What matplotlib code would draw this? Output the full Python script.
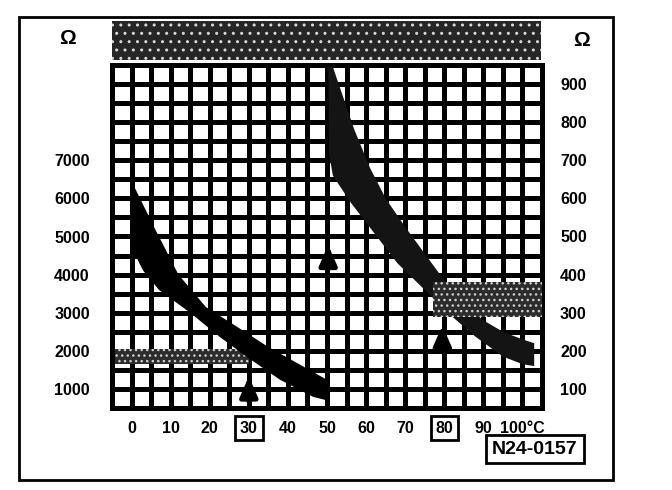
import matplotlib
matplotlib.use("Agg")
import matplotlib.pyplot as plt
from matplotlib.patches import Rectangle
import numpy as np

plt.rcParams["font.family"] = ["Liberation Sans", "DejaVu Sans"]

# temperature axis (deg C) and its labels
x_ticks = [0, 10, 20, 30, 40, 50, 60, 70, 80, 90, 100]
x_labels = ["0", "10", "20", "30", "40", "50", "60", "70", "80", "90", "100°C"]
boxed_labels = ["30", "80"]

# resistance scales: left in ohm, right is the same grid read /10
left_ticks = [1000, 2000, 3000, 4000, 5000, 6000, 7000]
right_ticks = [100, 200, 300, 400, 500, 600, 700, 800, 900]

# low range sensor band (left scale, ohm)
low_upper_t = [0, 6, 12, 19, 27, 35, 42, 50]
low_upper_r = [6450, 5200, 4000, 3150, 2630, 2100, 1700, 1240]
low_lower_t = [0, 3, 7, 15, 22.5, 29.5, 38, 46.5, 50]
low_lower_r = [4700, 4100, 3600, 3000, 2370, 1840, 1240, 790, 700]

# high range sensor band (right scale, ohm)
high_upper_t = [51.5, 54, 57, 61, 65, 70, 75, 80, 85, 90, 95, 100, 103]
high_upper_r = [945, 870, 780, 680, 600, 525, 455, 385, 325, 280, 250, 230, 220]
high_lower_t = [50.3, 50.5, 51.5, 56, 62, 68, 76, 82, 88, 95, 100, 103]
high_lower_r = [945, 720, 660, 590, 510, 430, 350, 290, 237, 185, 165, 160]

# shaded tolerance windows: (t_from, t_to, r_from, r_to) on the left scale
windows = [(-5, 30, 1650, 2050), (77, 105, 2900, 3800)]

# arrows: (t, r_tail, r_tip) on the left scale
arrows = [(30, 600, 1400), (50.3, 4250, 4850), (79.5, 2050, 2740)]

fig = plt.figure(figsize=(6.72, 4.9), dpi=100)
ax = fig.add_axes([112 / 672, 1 - 408 / 490, 430 / 672, 343 / 490])
ax.set_xlim(-5, 105)
ax.set_ylim(500, 9500)

# grid every 5 degC / 500 ohm (major + minor so no line is dropped)
ax.set_xticks(np.arange(-5, 106, 5), minor=True)
ax.set_yticks(np.arange(500, 9501, 500), minor=True)
ax.grid(which="both", color="black", lw=3.6, zorder=1)
ax.set_axisbelow(True)
ax.tick_params(which="both", length=0)
for sp in ax.spines.values():
    sp.set_linewidth(3.6)

ax.set_xticks(x_ticks)
ax.set_xticklabels(x_labels, fontsize=11.5, fontweight="bold")
ax.tick_params(axis="x", pad=9)
for lab in ax.get_xticklabels():
    if lab.get_text() in boxed_labels:
        lab.set_bbox(dict(boxstyle="square,pad=0.3", fc="white", ec="black", lw=2))

ax.set_yticks(left_ticks)
ax.set_yticklabels([str(v) for v in left_ticks], fontsize=11.5, fontweight="bold")
ax.tick_params(axis="y", pad=16)

ax2 = ax.twinx()
ax2.set_ylim(50, 950)
ax2.set_yticks(right_ticks)
ax2.set_yticklabels([str(v) for v in right_ticks], fontsize=11.5, fontweight="bold")
ax2.tick_params(length=0, pad=13)
for sp in ax2.spines.values():
    sp.set_visible(False)

# bands
ax.fill(low_upper_t + low_lower_t[::-1], low_upper_r + low_lower_r[::-1],
        color="black", lw=0, zorder=3)
hu = [r * 10 for r in high_upper_r]
hl = [r * 10 for r in high_lower_r]
ax.fill(high_upper_t + high_lower_t[::-1], hu + hl[::-1],
        color="#141414", lw=0, zorder=3)

for i, (t0, t1, r0, r1) in enumerate(windows):
    ax.add_patch(Rectangle((t0, r0), t1 - t0, r1 - r0, fc="#2c2c2c", ec="#cfcfcf",
                           hatch="...", lw=0, zorder=2 if i == 0 else 4))

for t, r0, r1 in arrows:
    ax.annotate("", xy=(t, r1), xytext=(t, r0),
                arrowprops=dict(arrowstyle="-|>,head_length=0.8,head_width=0.35",
                                color="black", lw=3.5, mutation_scale=15),
                zorder=5)

# header strip, frame and labels outside the grid
fig.add_artist(Rectangle((112 / 672, 1 - 60 / 490), 429 / 672, 39 / 490,
                         transform=fig.transFigure, fc="#262626", ec="#d8d8d8",
                         hatch="..", lw=0))
fig.add_artist(Rectangle((19 / 672, 1 - 480 / 490), 594 / 672, 463 / 490,
                         transform=fig.transFigure, fill=False, ec="black", lw=2))
fig.text(67 / 672, 1 - 38 / 490, "Ω", fontsize=15, fontweight="bold", ha="center", va="center")
fig.text(582 / 672, 1 - 40 / 490, "Ω", fontsize=15, fontweight="bold", ha="center", va="center")
fig.text(535 / 672, 1 - 449 / 490, "N24-0157", fontsize=14, fontweight="bold",
         ha="center", va="center",
         bbox=dict(boxstyle="square,pad=0.3", fc="white", ec="black", lw=2))

fig.savefig("out.png", dpi=100)
